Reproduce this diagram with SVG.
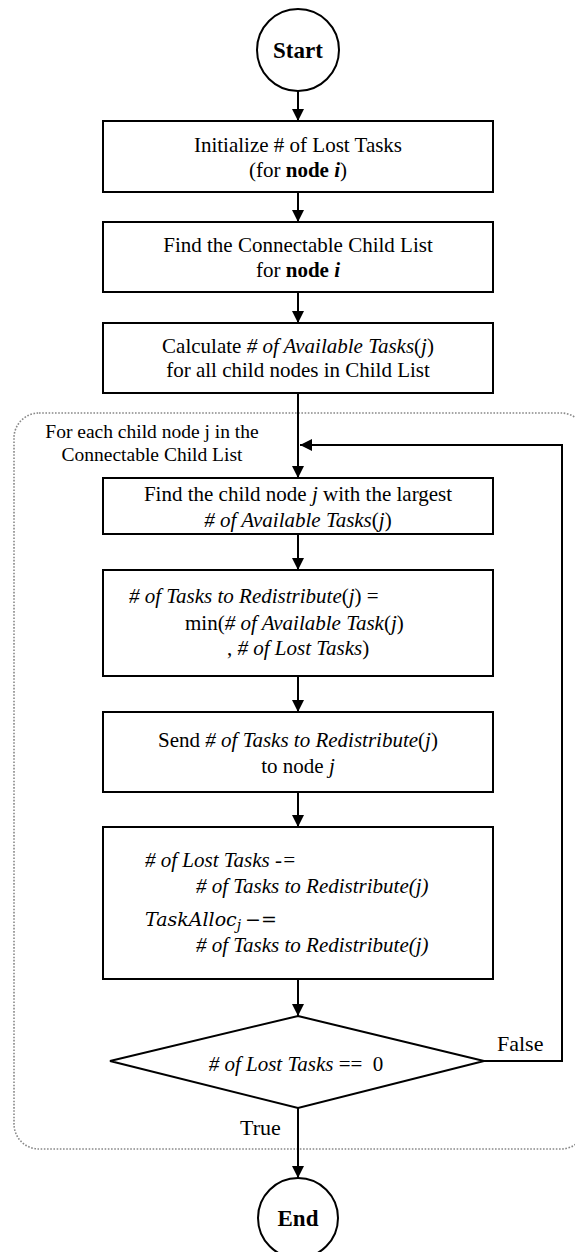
<svg xmlns="http://www.w3.org/2000/svg" width="575" height="1252" viewBox="0 0 575 1252">
  <style>
    .box { fill: #fff; stroke: #000; stroke-width: 2; }
    .term { fill: #fff; stroke: #000; stroke-width: 2; }
    .t { font-family: "Liberation Serif", "Times New Roman", serif; font-size: 21px; fill: #000; }
    .c { text-anchor: middle; }
    .i { font-style: italic; }
    .b { font-weight: bold; }
    .lbl { font-size: 22px; }
    .small { font-size: 19.5px; }
    .math { font-family: "DejaVu Serif", serif; font-style: italic; font-size: 19px; }
    .edge { fill: none; stroke: #000; stroke-width: 2; }
    .loop { fill: none; stroke: #888; stroke-width: 1.6; stroke-dasharray: 1.6 1.6; }
  </style>
  <defs>
    <marker id="arrow" viewBox="0 0 10 10" refX="10" refY="5" markerWidth="12" markerHeight="12" markerUnits="userSpaceOnUse" orient="auto">
      <path d="M0,0 L10,5 L0,10 z" fill="#000"/>
    </marker>
  </defs>
  <rect width="575" height="1252" fill="#fff"/>

  <!-- loop region -->
  <g id="loop-region">
    <rect class="loop" x="14" y="413" width="572" height="736" rx="25" ry="25"/>
    <text class="t small c" x="152" y="438">For each child node j in the</text>
    <text class="t small c" x="152" y="461">Connectable Child List</text>
  </g>

  <!-- connectors -->
  <g id="connectors">
    <line class="edge" x1="298" y1="91" x2="298" y2="121" marker-end="url(#arrow)"/>
    <line class="edge" x1="298" y1="192" x2="298" y2="222" marker-end="url(#arrow)"/>
    <line class="edge" x1="298" y1="292" x2="298" y2="323" marker-end="url(#arrow)"/>
    <line class="edge" x1="298" y1="393" x2="298" y2="478" marker-end="url(#arrow)"/>
    <line class="edge" x1="298" y1="534" x2="298" y2="570" marker-end="url(#arrow)"/>
    <line class="edge" x1="298" y1="676" x2="298" y2="712" marker-end="url(#arrow)"/>
    <line class="edge" x1="298" y1="792" x2="298" y2="827" marker-end="url(#arrow)"/>
    <line class="edge" x1="298" y1="979" x2="298" y2="1016" marker-end="url(#arrow)"/>
    <line class="edge" x1="298" y1="1108" x2="298" y2="1178" marker-end="url(#arrow)"/>
    <polyline class="edge" points="484,1061 562,1061 562,445 300,445" marker-end="url(#arrow)"/>
    <text class="t lbl" x="497" y="1051">False</text>
    <text class="t lbl" x="240" y="1135">True</text>
  </g>

  <g id="start">
    <circle class="term" cx="298" cy="50" r="41"/>
    <text class="t b c" x="298" y="58" style="font-size:23px">Start</text>
  </g>

  <g id="init-lost">
    <rect class="box" x="103" y="121" width="390" height="71"/>
    <text class="t c" x="298" y="152">Initialize # of Lost Tasks</text>
    <text class="t c" x="298" y="177">(for <tspan class="b">node <tspan class="i">i</tspan></tspan>)</text>
  </g>

  <g id="find-list">
    <rect class="box" x="103" y="222" width="390" height="70"/>
    <text class="t c" x="298" y="252">Find the Connectable Child List</text>
    <text class="t c" x="298" y="277">for <tspan class="b">node <tspan class="i">i</tspan></tspan></text>
  </g>

  <g id="calc-available">
    <rect class="box" x="103" y="323" width="390" height="70"/>
    <text class="t c" x="298" y="353">Calculate <tspan class="i"># of Available Tasks</tspan>(<tspan class="i">j</tspan>)</text>
    <text class="t c" x="298" y="377">for all child nodes in Child List</text>
  </g>

  <g id="find-largest">
    <rect class="box" x="103" y="478" width="390" height="56"/>
    <text class="t c" x="298" y="501">Find the child node <tspan class="i">j</tspan> with the largest</text>
    <text class="t c" x="298" y="527"><tspan class="i"># of Available Tasks</tspan>(<tspan class="i">j</tspan>)</text>
  </g>

  <g id="redistribute">
    <rect class="box" x="103" y="570" width="390" height="106"/>
    <text class="t" x="129" y="603"><tspan class="i"># of Tasks to Redistribute</tspan>(<tspan class="i">j</tspan>) =</text>
    <text class="t" x="185" y="630">min(<tspan class="i"># of Available Task</tspan>(<tspan class="i">j</tspan>)</text>
    <text class="t" x="227" y="655">, <tspan class="i"># of Lost Tasks</tspan>)</text>
  </g>

  <g id="send">
    <rect class="box" x="103" y="712" width="390" height="80"/>
    <text class="t c" x="298" y="747">Send <tspan class="i"># of Tasks to Redistribute</tspan>(<tspan class="i">j</tspan>)</text>
    <text class="t c" x="298" y="773">to node <tspan class="i">j</tspan></text>
  </g>

  <g id="update">
    <rect class="box" x="103" y="827" width="390" height="152"/>
    <text class="t i" x="145" y="867">#<tspan dx="0"> of Lost Tasks -=</tspan></text>
    <text class="t i" x="196" y="893"># of Tasks to Redistribute(j)</text>
    <text class="t" x="145" y="926"><tspan class="math">TaskAlloc</tspan><tspan class="math" dy="4" style="font-size:14px">j</tspan><tspan dy="-4" dx="4" style="font-family:'DejaVu Serif',serif;font-size:19px">−=</tspan></text>
    <text class="t i" x="196" y="952"># of Tasks to Redistribute(j)</text>
  </g>

  <g id="check-done">
    <polygon class="box" points="298,1016 484,1061 298,1108 110,1061"/>
    <text class="t c" x="296" y="1071" xml:space="preserve"><tspan class="i"># of Lost Tasks</tspan> ==  0</text>
  </g>

  <g id="end">
    <circle class="term" cx="298" cy="1218" r="40"/>
    <text class="t b c" x="298" y="1226" style="font-size:23px">End</text>
  </g>
</svg>
